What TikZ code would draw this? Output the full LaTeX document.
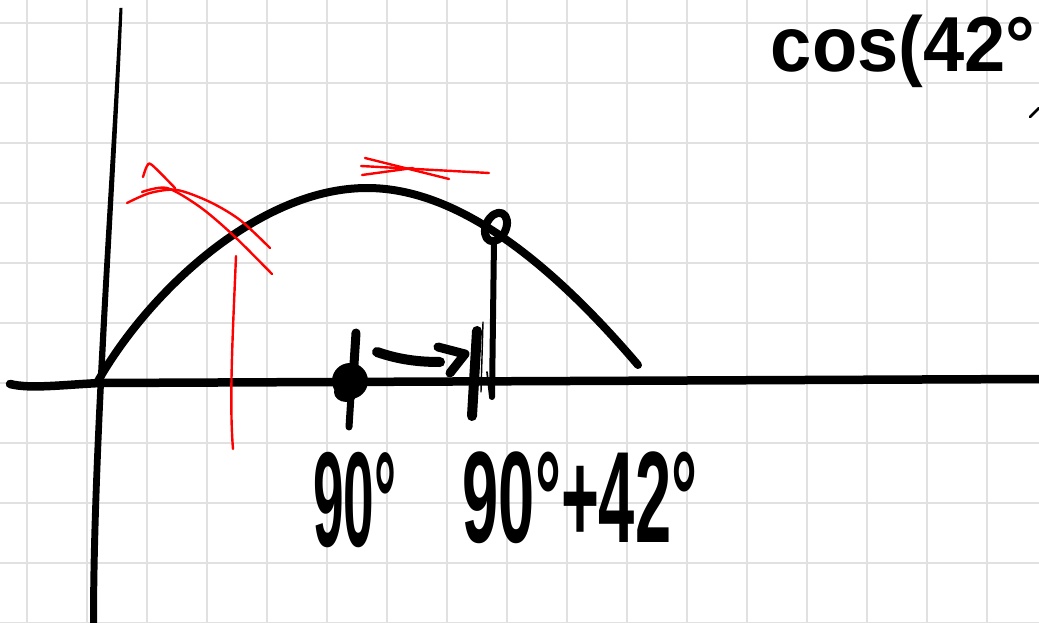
\documentclass[tikz,border=0pt]{standalone}
\usepackage{fontspec}
\setmainfont{Liberation Sans}
\definecolor{gridgray}{HTML}{E1E1E1}
\begin{document}
\begin{tikzpicture}[x=1pt,y=-1pt, line cap=round, line join=round,
  inkline/.style={draw=black},
  redpen/.style={draw=red, line width=2.4pt},
  gridline/.style={draw=gridgray, line width=2.3pt},
  handtext/.style={text=black, inner sep=0pt, font=\bfseries}]
\useasboundingbox (0,0) rectangle (1039,623);
\fill[white] (0,0) rectangle (1039,623);
% grid
\foreach \x in {27,87,...,1017} \draw[gridline] (\x,0) -- (\x,623);
\foreach \y in {23,83,...,623} \draw[gridline] (0,\y) -- (1039,\y);
% axes
\fill[black] (119.5,8) .. controls (109,200) and (90,450) .. (90,623) -- (97,623) .. controls (97,450) and (115,200) .. (122.5,8) -- cycle;
\draw[inkline, line width=8.5pt] (10,384) .. controls (30,389) and (60,385) .. (100,383) -- (1039,379);
% curve
\draw[inkline, line width=8pt] (98,381) .. controls (150,290) and (260,188) .. (367,188)
  .. controls (450,188) and (540,250) .. (638,365);
% marked point on curve
\draw[inkline, line width=8pt] (496,227) ellipse [x radius=10, y radius=15, rotate=-25];
\draw[inkline, line width=6pt] (494,240) -- (492,397);
% 90 degree point
\fill[black] (350,381) circle (18);
\fill[black] (346,392) ellipse [x radius=12, y radius=10];
\draw[inkline, line width=9pt] (356,333) -- (353,380);
\draw[inkline, line width=7pt] (352,380) -- (349,427);
% arrow
\draw[inkline, line width=10pt] (377,352) .. controls (400,360) and (420,362) .. (440,362);
\draw[inkline, line width=9pt] (438,347) -- (465,354) -- (450,373);
% tick at 90+42
\draw[inkline, line width=10pt] (477,331) -- (472,416);
\draw[inkline, line width=1.4pt] (483,322) -- (481,392);
\draw[inkline, line width=1.7pt] (487,372) -- (490,398);
% red tangents
\draw[redpen] plot[smooth] coordinates {(127,203) (150,193) (177,190) (210,202) (240,220) (270,248)};
\draw[redpen] plot[smooth] coordinates {(142,192) (167,188) (200,207) (233,235) (272,274)};
\draw[redpen] plot[smooth] coordinates {(143,177) (147,166) (152,165) (175,188)};
\draw[redpen] (236,256) .. controls (233,330) and (229,400) .. (233,449);
\draw[redpen] (365,158) -- (449,179);
\draw[redpen] (361,166) -- (489,173);
\draw[redpen] (362,175) -- (413,168);
% labels
\node[handtext, anchor=base] (cos) at (903,72) {\fontsize{78}{84}\selectfont\scalebox{0.95}[1.0]{cos(42°}};
\draw[inkline, line width=2.5pt] (1030,117) -- (1039,108);
\node[handtext] (l90) at (355,500) {\fontsize{100}{110}\selectfont\scalebox{0.55}[1.35]{90°}};
\node[handtext] (l132) at (580,498) {\fontsize{100}{110}\selectfont\scalebox{0.65}[1.3]{90°+42°}};
\end{tikzpicture}
\end{document}
